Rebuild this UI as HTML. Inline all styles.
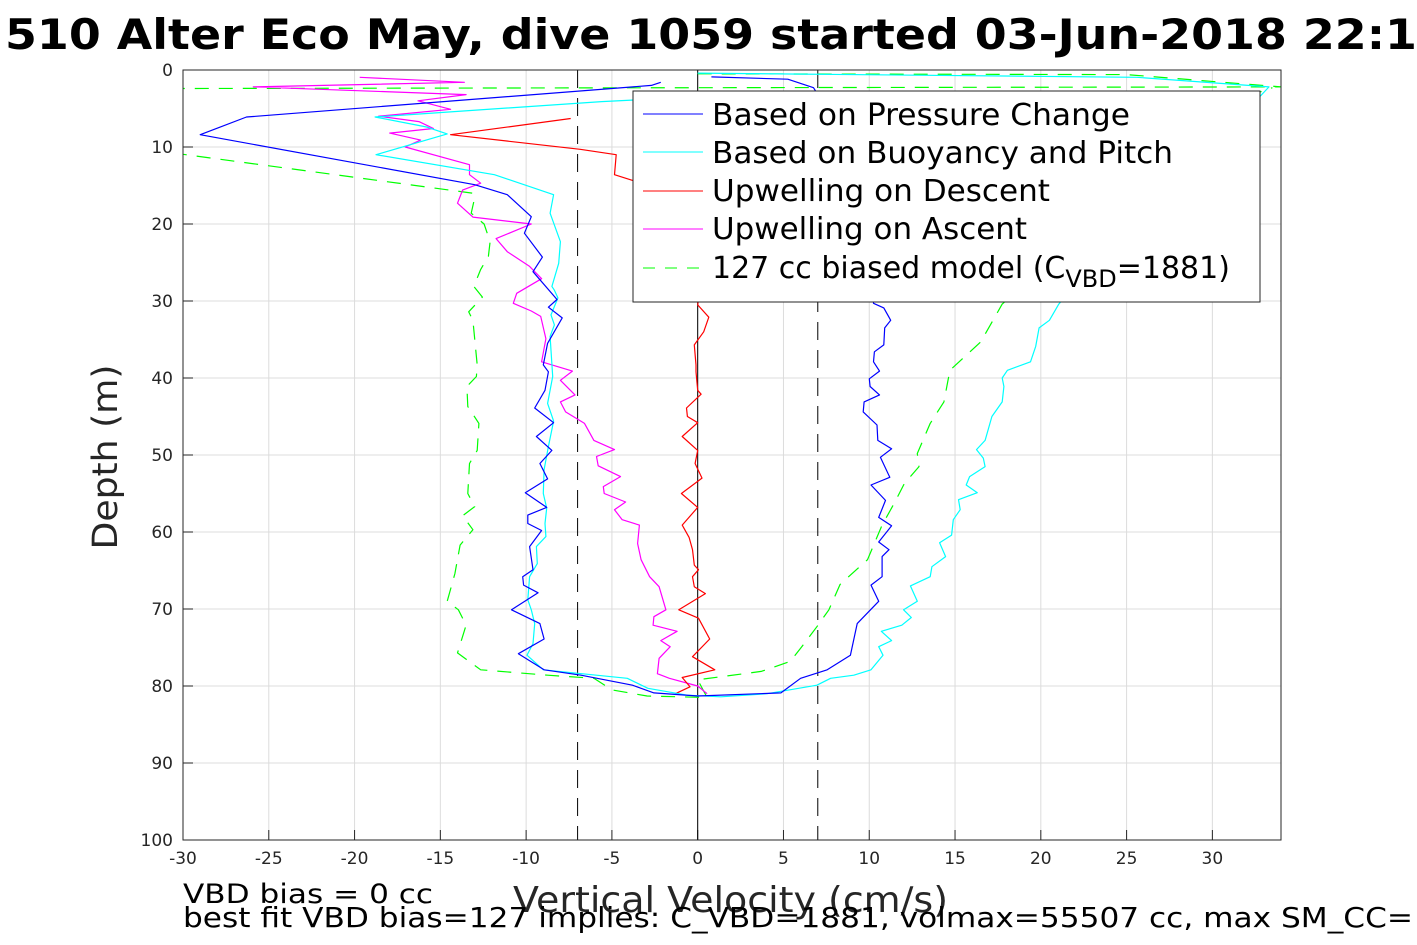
<!DOCTYPE html>
<html><head><meta charset="utf-8"><style>
body{margin:0;background:#fff}
svg{display:block;font-family:"DejaVu Sans","Liberation Sans",sans-serif}
</style></head><body>
<svg id="chart" width="1417" height="945" viewBox="0 0 1417 945" xmlns="http://www.w3.org/2000/svg">
<rect width="1417" height="945" fill="#fff"/>
<text x="5" y="49" font-size="42" font-weight="bold" textLength="1412" lengthAdjust="spacingAndGlyphs">510 Alter Eco May, dive 1059 started 03-Jun-2018 22:1</text>
<g id="grid"></g>
<g id="refs"></g>
<g id="series"></g>
<rect x="183" y="70" width="1098" height="770" fill="none" stroke="#262626" stroke-width="1"/>
<g id="ticks" font-size="17" fill="#262626"></g>
<text transform="translate(117,457) rotate(-90)" text-anchor="middle" font-size="35" fill="#262626" textLength="185" lengthAdjust="spacingAndGlyphs">Depth (m)</text>
<text x="513" y="912" font-size="36" fill="#262626" textLength="435" lengthAdjust="spacingAndGlyphs">Vertical Velocity (cm/s)</text>
<text x="183" y="903" font-size="27" textLength="250" lengthAdjust="spacingAndGlyphs">VBD bias = 0 cc</text>
<text x="183" y="927" font-size="28" textLength="1230" lengthAdjust="spacingAndGlyphs">best fit VBD bias=127 implies: C_VBD=1881, volmax=55507 cc, max SM_CC=</text>
<g>
<rect x="633" y="91" width="627" height="211" fill="#fff" stroke="#262626" stroke-width="1"/>
<line x1="643" y1="114" x2="703" y2="114" stroke="#0000ff"/>
<text x="712" y="125" font-size="30" textLength="418" lengthAdjust="spacingAndGlyphs">Based on Pressure Change</text>
<line x1="643" y1="152" x2="703" y2="152" stroke="#00ffff"/>
<text x="712" y="163" font-size="30" textLength="461" lengthAdjust="spacingAndGlyphs">Based on Buoyancy and Pitch</text>
<line x1="643" y1="191" x2="703" y2="191" stroke="#ff0000"/>
<text x="712" y="201" font-size="30" textLength="338" lengthAdjust="spacingAndGlyphs">Upwelling on Descent</text>
<line x1="643" y1="229" x2="703" y2="229" stroke="#ff00ff"/>
<text x="712" y="239" font-size="30" textLength="315" lengthAdjust="spacingAndGlyphs">Upwelling on Ascent</text>
<line x1="643" y1="268" x2="703" y2="268" stroke="#00ff00" stroke-dasharray="12,10"/>
<text x="712" y="278" font-size="30">127 cc biased model (C<tspan font-size="24" dy="9">VBD</tspan><tspan dy="-9">=1881)</tspan></text>
</g>
</svg>
<script>
const xTicks=[-30,-25,-20,-15,-10,-5,0,5,10,15,20,25,30];
const yTicks=[0,10,20,30,40,50,60,70,80,90,100];
const xMin=-30,xMax=34,yMin=0,yMax=100;
const refVel=[-7,0,7];

const pressureVel=[-2.15,-2.7,-26.3,-29,-13,-11.1,-9.7,-10.1,-9.05,-9.6,-8.2,-8.7,-7.9,-8.75,-9.0,-8.7,-8.9,-9.5,-8.4,-9.4,-8.5,-9.2,-8.75,-10.05,-8.8,-9.9,-9.9,-9.1,-9.8,-9.6,-10.2,-10.15,-9.3,-10.85,-9.2,-8.95,-10.45,-8.95,-6.8,-3.8,-2.55,0,4.85,6.0,7.55,8.9,9.3,10.55,10.1,10.75,10.75,11.15,10.55,11.3,10.55,10.95,10.1,11.2,10.65,11.3,10.5,10.45,9.65,9.7,10.6,10.05,10.0,10.6,10.25,10.3,10.85,10.9,11.25,10.85,10.25,10.2,10,9,7,6.75,5.25,0.8];
const pressureDepth=[1.6,2.0,6.1,8.4,14.9,16.2,19.05,21.2,24.3,26.2,29.8,30.8,32.2,35.5,38.3,39.2,41.6,43.9,45.8,47.6,49.4,51.1,53.1,54.9,56.8,57.8,58.9,59.8,61.9,64.9,65.8,66.9,67.9,70.1,71.9,73.9,75.8,77.9,78.6,79.9,80.9,81.3,80.9,79,77.9,76,71.9,69,66.9,65.8,63.2,62.3,61.3,59.2,58.1,55.9,53.9,52.9,50.3,49.2,48.1,46.1,44.4,43.1,42.2,41.1,40.1,39.1,37.9,36.6,35.7,33.5,32.5,30.9,30.3,25,15,8,3.2,2.3,1.2,0.9];

const buoyVel=[-1.5,-3.7,-5.6,-18.8,-15.8,-14.6,-18.75,-11.85,-8.4,-8.6,-8.0,-8.1,-8.5,-8.35,-8.15,-8.55,-8.35,-8.6,-8.45,-8.75,-8.4,-8.7,-8.95,-9.0,-8.8,-8.9,-8.85,-9.4,-9.35,-9.8,-9.9,-9.7,-9.5,-9.6,-9.95,-9.0,-4.1,-2.9,-0.6,1.35,4.05,6.95,7.75,9.1,10.1,10.8,10.55,11.3,10.7,11.9,12.45,12.0,12.8,12.4,13.55,13.65,14.45,14.1,14.8,14.9,15.3,15.2,16.3,15.65,15.85,16.75,16.65,16.25,16.75,17.15,17.75,17.85,17.75,18.05,19.4,19.7,19.9,20.5,21.05,25,30,33.3,25.6,0];
const buoyDepth=[3.7,3.9,4.1,6.1,7.4,8.3,11,13.6,16.2,18.6,22.3,25.1,28.1,28.6,29.6,31.8,33.1,34.6,39.8,43.3,45.6,48.9,51.9,55,56.9,58.9,60.6,61.9,64.1,65.8,68.8,70.1,71.9,74.5,76,77.9,79,80.3,81.2,81.4,81,79.9,79,78.6,77.9,76,74.9,74.1,72.9,72.1,71.1,70.1,69,67,65.8,64.5,63.2,61.4,60.4,58.4,57.1,55.8,54.9,53.9,52.8,51.5,50.4,49.3,48.1,45,43.1,41.1,40,39,37.9,35.9,33.5,32.5,30.4,20,10,2.2,0.95,0.4];

const descentVel=[-7.4,-14.4,-6.85,-4.75,-4.85,-3.7,-2,-0.5,0.3,0,0.65,0.35,-0.2,-0.1,-0.1,0,0.2,-0.65,-0.6,0,-0.9,0,-0.15,0.25,-0.95,0,-0.9,-0.5,-0.3,-0.2,0.05,-0.3,-0.2,0.45,-1.1,0.05,0.7,-0.3,1.0,-0.9,-0.45,-1.3];
const descentDepth=[6.3,8.4,10.3,11,13.6,14.4,18,22,26,30.5,32.1,34,35.7,38.3,39.2,41.6,42.1,43.9,45,45.8,47.6,49.4,51.1,53,55,56.8,59.1,60.7,62.3,64.3,64.9,65.8,67.1,68,70.1,71.2,73.9,76.2,77.9,78.9,80.1,81];

const ascentVel=[0.55,0,-1.65,-2.35,-2.25,-1.6,-2.15,-1.2,-2.6,-2.55,-1.85,-2.25,-2.8,-3.3,-3.5,-3.4,-4.4,-4.85,-4.2,-5.45,-5.5,-4.5,-5.8,-5.9,-4.85,-6.05,-6.6,-7.7,-8.0,-7.15,-8.0,-7.3,-9.1,-8.85,-9.15,-9.7,-10.75,-10.55,-9.1,-9.8,-11.1,-11.75,-9.7,-13.1,-14.0,-13.7,-12.65,-13.3,-13.3,-17.05,-16.15,-17.95,-15.4,-16.25,-18.6,-14.4,-16.3,-13.5,-25.9,-13.6,-19.7];
const ascentDepth=[81,80,79,78.4,76.4,74.9,74.1,72.9,72.1,71,70.1,67.1,65.8,63.6,61.5,59.1,58.4,57.1,56.1,55,54.1,52.8,51.4,50.2,49.3,48.1,45.9,44.4,43.1,42.2,40.3,39.1,37.9,34.9,32,31.3,30.3,29,27.1,25.5,23.6,21.9,20,19.1,17.3,15.6,14.7,13.6,12.3,10,9.1,8.2,7.6,6.7,6,5.1,4,3.2,2.2,1.6,0.95];

const modelVel=[0,25,34,0,-30,-34,-30,-13.1,-13,-13.2,-12.45,-12.1,-12.2,-12.65,-13.05,-12.55,-13.35,-13.1,-12.85,-12.9,-13.45,-13.4,-12.75,-12.85,-13.3,-13.4,-13,-13.7,-13.1,-13.85,-14.15,-14.6,-13.95,-13.5,-14.0,-12.65,-8.75,-6.05,-5,-2.95,0.55,0,3.7,5.4,6.0,6.95,7.65,8.3,9.9,10.75,11.45,12.05,12.9,12.8,13.55,14.35,14.7,16.5,17.75,22,26,30,33.5];
const modelDepth=[0.5,0.6,2.2,2.3,2.4,6,10.95,16,16.6,18.6,20,22.3,24.2,25.9,28.1,29.5,31.4,32.5,38.3,39.8,41.1,43.7,45.9,49.4,51.1,55,56.7,57.9,59.7,61.7,65.4,69,70.1,72.1,75.7,77.9,78.6,79,80.5,81.3,81.5,79.2,78.1,76.8,75.1,72.3,70.1,66.8,63.6,59.1,56.3,53.7,51.5,49.8,45.9,43.1,39,35.3,30.4,22,12,5,2.3];

const L=183,R=1281,T=70,B=840;
const xs=v=>L+(v-xMin)/(xMax-xMin)*(R-L);
const ys=d=>T+(d-yMin)/(yMax-yMin)*(B-T);
const NS='http://www.w3.org/2000/svg';
const grid=document.getElementById('grid'),ticks=document.getElementById('ticks'),refs=document.getElementById('refs'),ser=document.getElementById('series');
function mk(tag,attrs,parent){const e=document.createElementNS(NS,tag);for(const k in attrs)e.setAttribute(k,attrs[k]);parent.appendChild(e);return e;}
xTicks.forEach(t=>{
  const g=mk('line',{x1:xs(t),x2:xs(t),y1:T,y2:B,stroke:'#dcdcdc','stroke-width':1},grid);
  
  
  const tk=mk('line',{x1:xs(t),x2:xs(t),y1:B,y2:B-10,stroke:'#262626'},grid);
  
  
  const tx=mk('text',{x:xs(t),y:B+24,'text-anchor':'middle'},ticks);
  
  
  tx.textContent=t;
});
yTicks.forEach(t=>{
  const g=mk('line',{x1:L,x2:R,y1:ys(t),y2:ys(t),stroke:'#dcdcdc','stroke-width':1},grid);
  
  
  const tk=mk('line',{x1:L,x2:L+10,y1:ys(t),y2:ys(t),stroke:'#262626'},grid);
  
  
  const tx=mk('text',{x:L-10,y:ys(t)+6,'text-anchor':'end'},ticks);
  
  
  tx.textContent=t;
});
refVel.forEach(v=>{
  const a={x1:xs(v),x2:xs(v),y1:T,y2:B,stroke:'#000','stroke-width':1};
  if(v!==0)a['stroke-dasharray']='18,10';
  const l=mk('line',a,refs);
  
  
});
function line(vel,dep,color,name,dash){
  const pts=vel.map((v,i)=>xs(v).toFixed(1)+','+ys(dep[i]).toFixed(1)).join(' ');
  const a={points:pts,fill:'none',stroke:color,'stroke-width':1.2,'stroke-linejoin':'round'};
  if(dash)a['stroke-dasharray']=dash;
  const p=mk('polyline',a,ser);
  
  
}
const clip=mk('clipPath',{id:'pc'},document.getElementById('chart'));
mk('rect',{x:L,y:T-1,width:R-L,height:B-T+1},clip);
ser.setAttribute('clip-path','url(#pc)');
line(modelVel,modelDepth,'#00ff00','model-line','14,10');
line(ascentVel,ascentDepth,'#ff00ff','ascent-upwelling-line');
line(descentVel,descentDepth,'#ff0000','descent-upwelling-line');
line(buoyVel,buoyDepth,'#00ffff','buoyancy-pitch-line');
line(pressureVel,pressureDepth,'#0000ff','pressure-change-line');
</script>
</body></html>
